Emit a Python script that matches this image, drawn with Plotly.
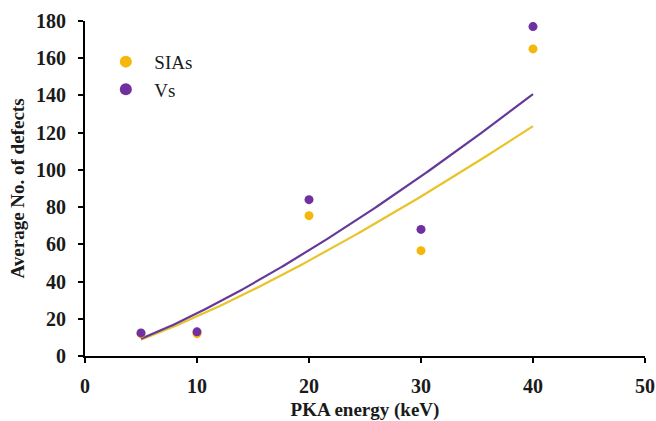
import numpy as np
import plotly.graph_objects as go

pka_energy = [5, 10, 20, 30, 40]
sias = [12, 12, 75.4, 56.6, 165]
vs = [12.4, 13, 84, 68, 177]

x_ticks = [0, 10, 20, 30, 40, 50]
y_ticks = [0, 20, 40, 60, 80, 100, 120, 140, 160, 180]

SIA_COL = "#F5B70A"
SIA_LINE = "#E9C32A"
VS_COL = "#7030A0"
VS_LINE = "#65399A"
FONT = "Liberation Serif"
TXT = "#1a1a1a"


def power_fit(x, y):
    b, ln_a = np.polyfit(np.log(x), np.log(y), 1)
    return np.exp(ln_a), b


xs = np.linspace(min(pka_energy), max(pka_energy), 200)

fig = go.Figure()
for name, vals, lc in [("SIAs", sias, SIA_LINE), ("Vs", vs, VS_LINE)]:
    a, b = power_fit(pka_energy, vals)
    fig.add_trace(go.Scatter(x=xs, y=a * xs ** b, mode="lines",
                             line=dict(color=lc, width=2.2), showlegend=False,
                             hoverinfo="skip"))
for name, vals, mc in [("SIAs", sias, SIA_COL), ("Vs", vs, VS_COL)]:
    fig.add_trace(go.Scatter(x=pka_energy, y=vals, mode="markers", name=name,
                             marker=dict(color=mc, size=9)))

bold = dict(family=FONT, size=20, color=TXT, weight="bold")
axis_common = dict(showline=True, linecolor="black", linewidth=2,
                   ticks="outside", ticklen=5, tickwidth=2, tickcolor="black",
                   showgrid=False, zeroline=False, automargin=False,
                   tickfont=bold)

fig.update_xaxes(range=[0, 50], tickvals=x_ticks, ticklabelstandoff=6,
                 title=dict(text="PKA energy (keV)", font=dict(family=FONT, size=19, color=TXT, weight="bold"), standoff=11),
                 **axis_common)
fig.update_yaxes(range=[0, 180], tickvals=y_ticks, ticklabelstandoff=8,
                 title=dict(text="Average No. of defects", font=dict(family=FONT, size=19, color=TXT, weight="bold"), standoff=6),
                 **axis_common)

fig.update_layout(
    width=656, height=421,
    margin=dict(l=85, r=11, t=21, b=65),
    plot_bgcolor="white", paper_bgcolor="white",
    legend=dict(x=0.022, y=0.935, xanchor="left", yanchor="top",
                font=dict(family=FONT, size=19, color=TXT),
                bgcolor="rgba(0,0,0,0)", itemsizing="constant", itemwidth=47),
)

fig.write_html("out.html")
